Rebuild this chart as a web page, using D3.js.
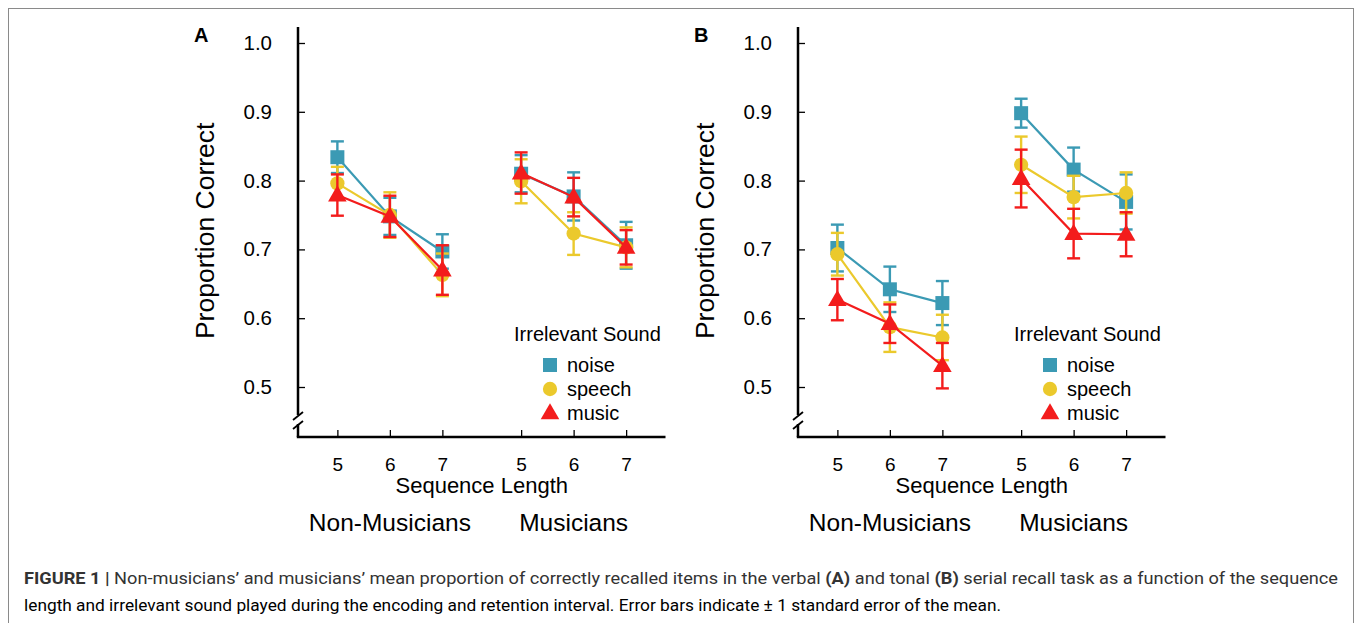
<!DOCTYPE html>
<html>
<head>
<meta charset="utf-8">
<script src="https://cdn.jsdelivr.net/npm/d3@7/dist/d3.min.js"></script>
<style>
  html, body { margin: 0; padding: 0; background: #fff; }
  svg { display: block; }
  text { font-family: "Liberation Sans", Arial, Helvetica, sans-serif; fill: #000; }
</style>
</head>
<body>
<svg id="chart" width="1357" height="623"></svg>
<script>
// ---------- data ----------
const groups = ["Non-Musicians", "Musicians"];
const lengths = [5, 6, 7];
const seriesNames = ["noise", "speech", "music"];
const tickLabelsY = [0.5, 0.6, 0.7, 0.8, 0.9, 1.0];

// order: Non-Musicians 5,6,7 then Musicians 5,6,7
const noiseA    = [0.834, 0.748, 0.697, 0.810, 0.777, 0.706];
const noiseA_se = [0.023, 0.027, 0.025, 0.027, 0.035, 0.034];
const speechA    = [0.796, 0.750, 0.663, 0.799, 0.723, 0.703];
const speechA_se = [0.024, 0.033, 0.031, 0.032, 0.031, 0.029];
const musicA    = [0.779, 0.748, 0.670, 0.811, 0.776, 0.703];
const musicA_se = [0.030, 0.030, 0.036, 0.030, 0.028, 0.025];

const noiseB    = [0.702, 0.642, 0.622, 0.898, 0.816, 0.769];
const noiseB_se = [0.034, 0.033, 0.032, 0.021, 0.032, 0.040];
const speechB    = [0.693, 0.587, 0.572, 0.823, 0.776, 0.782];
const speechB_se = [0.031, 0.036, 0.033, 0.041, 0.031, 0.030];
const musicB    = [0.627, 0.592, 0.531, 0.803, 0.723, 0.722];
const musicB_se = [0.030, 0.028, 0.033, 0.042, 0.036, 0.032];

const panels = [
  { label: "A", series: [
      { name: "noise",  mean: noiseA,  se: noiseA_se },
      { name: "speech", mean: speechA, se: speechA_se },
      { name: "music",  mean: musicA,  se: musicA_se } ] },
  { label: "B", series: [
      { name: "noise",  mean: noiseB,  se: noiseB_se },
      { name: "speech", mean: speechB, se: speechB_se },
      { name: "music",  mean: musicB,  se: musicB_se } ] }
];

// ---------- styles ----------
const colors = { noise: "#3b9ab4", speech: "#ebc92c", music: "#f31c1c" };
const symbols = { noise: d3.symbolSquare, speech: d3.symbolCircle, music: d3.symbolTriangle };
const symSize = { noise: 196, speech: 160, music: 150 };

const svg = d3.select("#chart");

// frame
svg.append("rect").attr("x", 8.5).attr("y", 8.5).attr("width", 1345).attr("height", 640)
  .attr("fill", "none").attr("stroke", "#8a8a8a").attr("stroke-width", 1);

// slot position: group index * 3.5 + (length - 5)
const slot = (gi, li) => gi * 3.5 + li;

panels.forEach((p, pi) => {
  const ox = pi * 500;
  const axisX = 298 + ox;
  const x = d3.scaleLinear().domain([-0.75, 6.25]).range([axisX, axisX + 367.5]);
  const y = d3.scaleLinear().domain([0.5, 1.0]).range([387, 43]);
  const axisBottomY = y(0.5) + 50;
  const axisTopY = y(1.0) - 16;

  const g = svg.append("g");

  // Y axis ticks + labels
  const yAxis = d3.axisLeft(y).tickValues(tickLabelsY).tickFormat(d3.format(".1f"))
    .tickSize(-7).tickPadding(26);
  const ya = g.append("g").attr("transform", `translate(${axisX},0)`).call(yAxis);
  ya.select(".domain").remove();
  ya.selectAll(".tick line").attr("stroke", "#000").attr("stroke-width", 1.3);
  ya.selectAll(".tick text").style("font-size", "20.5px").attr("fill", "#000");

  // Y axis line with break
  const breakTop = axisBottomY - 22, breakBot = axisBottomY - 13;
  g.append("line").attr("x1", axisX).attr("x2", axisX).attr("y1", axisTopY).attr("y2", breakTop)
    .attr("stroke", "#000").attr("stroke-width", 2.5);
  g.append("line").attr("x1", axisX).attr("x2", axisX).attr("y1", breakBot).attr("y2", axisBottomY)
    .attr("stroke", "#000").attr("stroke-width", 2.5);
  [breakTop + 1, breakBot + 1].forEach(by => {
    g.append("line").attr("x1", axisX - 5).attr("y1", by + 4).attr("x2", axisX + 5).attr("y2", by - 4)
      .attr("stroke", "#000").attr("stroke-width", 1.8);
  });

  // X axis
  const tickPos = [];
  const tickLab = [];
  groups.forEach((gr, gi) => lengths.forEach((L, li) => { tickPos.push(slot(gi, li)); tickLab.push(L); }));
  const xAxis = d3.axisBottom(x).tickValues(tickPos).tickFormat((d, i) => tickLab[i])
    .tickSize(-7).tickSizeOuter(0).tickPadding(21);
  const xa = g.append("g").attr("transform", `translate(0,${axisBottomY})`).call(xAxis);
  xa.select(".domain").attr("stroke", "#000").attr("stroke-width", 2.5)
    .attr("d", `M${axisX - 1.2},0H${x.range()[1]}`);
  xa.selectAll(".tick line").attr("stroke", "#000").attr("stroke-width", 1.3);
  xa.selectAll(".tick text").style("font-size", "19px").attr("fill", "#000");

  // Axis titles
  g.append("text").attr("transform", `translate(${axisX - 93},${y(0.727)}) rotate(-90)`)
    .attr("text-anchor", "middle").attr("dominant-baseline", "central")
    .style("font-size", "26.5px").text("Proportion Correct");
  g.append("text").attr("x", x(2.75)).attr("y", axisBottomY + 56)
    .attr("text-anchor", "middle").style("font-size", "22px").text("Sequence Length");
  groups.forEach((gr, gi) => {
    g.append("text").attr("x", x(slot(gi, 1))).attr("y", axisBottomY + 94)
      .attr("text-anchor", "middle").style("font-size", "24.5px").text(gr);
  });

  // Panel letter
  g.append("text").attr("x", axisX - 104).attr("y", y(1.0) - 1)
    .style("font-size", "20px").style("font-weight", "bold").text(p.label);

  // Series
  p.series.forEach(s => {
    const col = colors[s.name];
    const sg = g.append("g");
    groups.forEach((gr, gi) => {
      const pts = lengths.map((L, li) => ({ sx: slot(gi, li), m: s.mean[gi * 3 + li], e: s.se[gi * 3 + li] }));
      sg.append("path").datum(pts)
        .attr("d", d3.line().x(d => x(d.sx)).y(d => y(d.m)))
        .attr("fill", "none").attr("stroke", col).attr("stroke-width", 2.2);
      pts.forEach(d => {
        const cx = x(d.sx);
        sg.append("line").attr("x1", cx).attr("x2", cx).attr("y1", y(d.m - d.e)).attr("y2", y(d.m + d.e))
          .attr("stroke", col).attr("stroke-width", 2.4);
        [d.m - d.e, d.m + d.e].forEach(v => {
          sg.append("line").attr("x1", cx - 6.5).attr("x2", cx + 6.5).attr("y1", y(v)).attr("y2", y(v))
            .attr("stroke", col).attr("stroke-width", 2.4);
        });
      });
      sg.selectAll(null).data(pts).enter().append("path")
        .attr("transform", d => `translate(${x(d.sx)},${y(d.m) + (s.name === "music" ? 1 : 0)})`)
        .attr("d", d3.symbol().type(symbols[s.name]).size(symSize[s.name]))
        .attr("fill", col);
    });
  });

  // Legend
  const lx = axisX + 216;
  g.append("text").attr("x", lx).attr("y", y(0.6) + 23).style("font-size", "20px").text("Irrelevant Sound");
  seriesNames.forEach((n, i) => {
    const ly = y(0.5) - 22 + i * 24;
    g.append("path").attr("transform", `translate(${lx + 36},${ly + (n === "music" ? 1 : 0)})`)
      .attr("d", d3.symbol().type(symbols[n]).size(symSize[n])).attr("fill", colors[n]);
    g.append("text").attr("x", lx + 53).attr("y", ly).attr("dominant-baseline", "central")
      .style("font-size", "20px").text(n);
  });
});

// Caption
const cap = svg.append("g").style("fill", "#333");
const line1 = cap.append("text").attr("x", 24).attr("y", 584)
  .attr("textLength", 1314).attr("lengthAdjust", "spacingAndGlyphs")
  .style("font-size", "16px").style("font-family", "'Liberation Sans Narrow', 'Roboto', Arial, sans-serif");
[["FIGURE 1 |", true], [" Non-musicians’ and musicians’ mean proportion of correctly recalled items in the verbal ", false],
 ["(A)", true], [" and tonal ", false], ["(B)", true], [" serial recall task as a function of the sequence", false]]
  .forEach(([t, b]) => line1.append("tspan").style("font-weight", b ? "bold" : "normal").attr("fill", "#333").text(t));
cap.append("text").attr("x", 24).attr("y", 611)
  .attr("textLength", 977).attr("lengthAdjust", "spacingAndGlyphs")
  .style("font-size", "16px").style("font-family", "'Liberation Sans Narrow', 'Roboto', Arial, sans-serif")
  .attr("fill", "#333")
  .text("length and irrelevant sound played during the encoding and retention interval. Error bars indicate ± 1 standard error of the mean.");
</script>
</body>
</html>
